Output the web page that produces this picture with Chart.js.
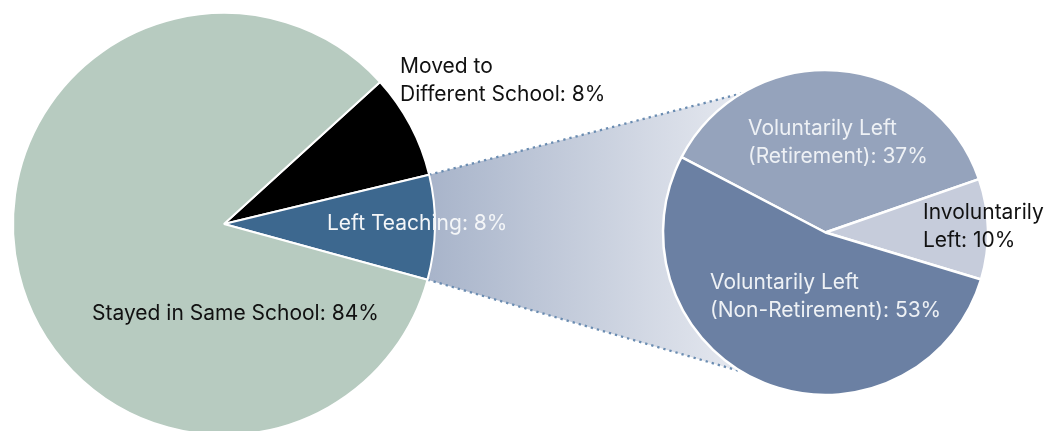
<!DOCTYPE html>
<html>
<head>
<meta charset="utf-8">
<script src="https://cdn.jsdelivr.net/npm/chart.js@4.4.0/dist/chart.umd.min.js"></script>
<style>
  html, body { margin: 0; padding: 0; background: #fff; overflow: hidden; width: 1046px; height: 431px; }
  #wrap { position: relative; width: 1046px; height: 431px; }
  canvas { position: absolute; left: 0; top: 0; }
  #mainPie { z-index: 2; }
  #leftPie { z-index: 1; }
</style>
</head>
<body>
<div id="wrap">
  <canvas id="leftPie" width="1046" height="460"></canvas>
  <canvas id="mainPie" width="1046" height="460"></canvas>
</div>
<script>
// main pie: where teachers went
const mainLabels = ['Moved to Different School', 'Left Teaching', 'Stayed in Same School'];
const mainValues = [8, 8, 84];
const mainLines = [['Moved to', 'Different School: '], ['Left Teaching: '], ['Stayed in Same School: ']];

// breakdown of the ones who left teaching
const leftLabels = ['Voluntarily Left (Retirement)', 'Involuntarily Left', 'Voluntarily Left (Non-Retirement)'];
const leftValues = [37, 10, 53];
const leftLines = [['Voluntarily Left', '(Retirement): '], ['Involuntarily', 'Left: '], ['Voluntarily Left', '(Non-Retirement): ']];

const FONT = '21px Inter, sans-serif';
const LINE_H = 28;

// label placement relative to pie centre
const mainLabelPos = [
  { dx: 176, dy: -157, color: '#111' },
  { dx: 103, dy: 0, color: '#f4f6f8' },
  { dx: -132, dy: 90, color: '#111' }
];
const leftLabelPos = [
  { dx: -77.5, dy: -103.5, color: '#eef1f5' },
  { dx: 97.5, dy: -20, color: '#111' },
  { dx: -115.5, dy: 50.5, color: '#eef1f5' }
];

// text plugin, the last line gets the value appended
function labelPlugin(lines, values, pos) {
  return {
    id: 'sliceLabels',
    afterDatasetsDraw(chart) {
      const ctx = chart.ctx;
      const arcs = chart.getDatasetMeta(0).data;
      ctx.save();
      ctx.font = FONT;
      ctx.textAlign = 'left';
      ctx.textBaseline = 'middle';
      lines.forEach((txt, i) => {
        const p = pos[i];
        ctx.fillStyle = p.color;
        txt.forEach((line, k) => {
          let s = line;
          if (k === txt.length - 1) s += values[i] + '%';
          ctx.fillText(s, arcs[i].x + p.dx, arcs[i].y + p.dy + k * LINE_H);
        });
      });
      ctx.restore();
    }
  };
}

const mainChart = new Chart(document.getElementById('mainPie').getContext('2d'), {
  type: 'pie',
  data: {
    labels: mainLabels,
    datasets: [{
      data: mainValues,
      backgroundColor: ['#000000', '#3d688f', '#b7cbc0'],
      borderColor: '#ffffff',
      borderWidth: 2
    }]
  },
  options: {
    responsive: false,
    animation: false,
    rotation: 47.7,
    radius: 211,
    layout: { padding: { left: 9, right: 607, top: 9, bottom: 21 } },
    plugins: { legend: { display: false }, tooltip: { enabled: false } }
  },
  plugins: [labelPlugin(mainLines, mainValues, mainLabelPos)]
});

// the fading wedge that joins "Left Teaching" to the second pie
const connector = {
  id: 'connector',
  beforeDatasetsDraw(chart) {
    const src = mainChart.getDatasetMeta(0).data[1];
    const dst = chart.getDatasetMeta(0).data[0];
    const ctx = chart.ctx;
    const a1 = src.startAngle, a2 = src.endAngle, r1 = src.outerRadius;
    const r2 = dst.outerRadius;
    const t = 121.1 * Math.PI / 180;
    const p1 = [src.x + r1 * Math.cos(a1), src.y + r1 * Math.sin(a1)];
    const p2 = [dst.x + r2 * Math.cos(-t), dst.y + r2 * Math.sin(-t)];
    const p3 = [dst.x + r2 * Math.cos(t), dst.y + r2 * Math.sin(t)];
    const p4 = [src.x + r1 * Math.cos(a2), src.y + r1 * Math.sin(a2)];

    ctx.save();
    const grad = ctx.createLinearGradient(p1[0], 0, p2[0] + 5, 0);
    grad.addColorStop(0, '#a8b4ca');
    grad.addColorStop(1, '#e6e9f0');
    ctx.beginPath();
    ctx.moveTo(p1[0], p1[1]);
    ctx.lineTo(p2[0], p2[1]);
    ctx.arc(dst.x, dst.y, r2, -t, t, true);
    ctx.lineTo(p4[0], p4[1]);
    ctx.arc(src.x, src.y, r1, a2, a1, true);
    ctx.closePath();
    ctx.fillStyle = grad;
    ctx.fill();

    ctx.strokeStyle = '#6a8cb1';
    ctx.lineWidth = 2.3;
    ctx.setLineDash([2.3, 4]);
    ctx.beginPath();
    ctx.moveTo(p1[0], p1[1]);
    ctx.lineTo(p2[0], p2[1]);
    ctx.moveTo(p4[0], p4[1]);
    ctx.lineTo(p3[0], p3[1]);
    ctx.stroke();
    ctx.restore();
  }
};

const leftChart = new Chart(document.getElementById('leftPie').getContext('2d'), {
  type: 'pie',
  data: {
    labels: leftLabels,
    datasets: [{
      data: leftValues,
      backgroundColor: ['#95a3bc', '#c6ccdb', '#6b80a3'],
      borderColor: '#ffffff',
      borderWidth: 2.5
    }]
  },
  options: {
    responsive: false,
    animation: false,
    rotation: -62.4,
    radius: 162.5,
    layout: { padding: { left: 660, right: 55, top: 67, bottom: 62 } },
    plugins: { legend: { display: false }, tooltip: { enabled: false } }
  },
  plugins: [connector, labelPlugin(leftLines, leftValues, leftLabelPos)]
});
</script>
</body>
</html>
